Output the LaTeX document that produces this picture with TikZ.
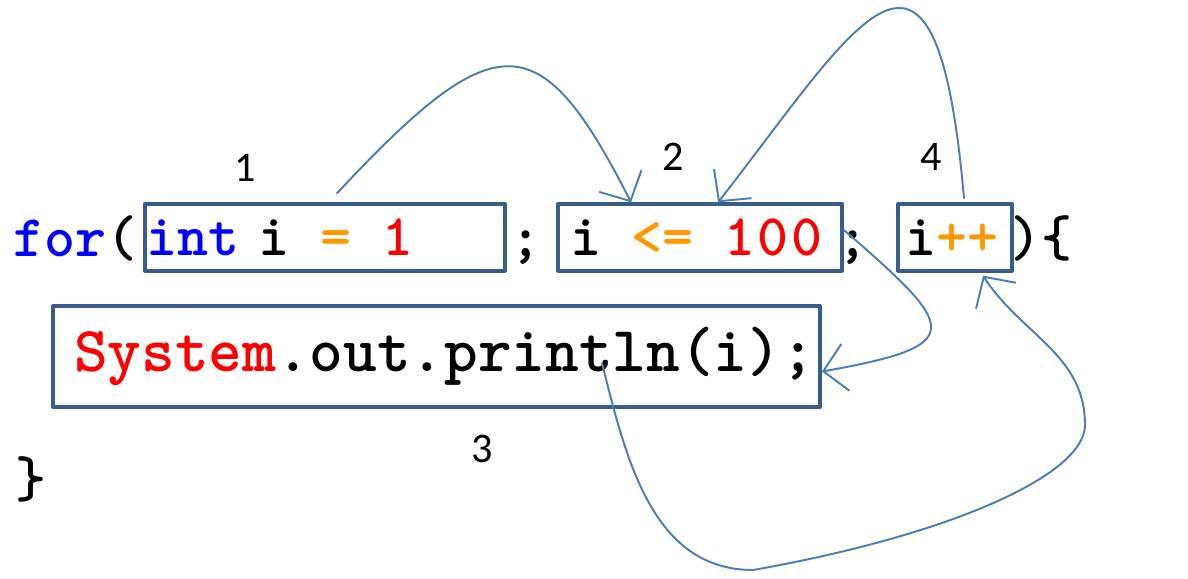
\documentclass[tikz,border=0pt]{standalone}
\usepackage{fontspec}
\usepackage{tikz}
\usetikzlibrary{arrows.meta, positioning, calc}
\newfontfamily\labelfont{Carlito}
\definecolor{BoxBlue}{RGB}{56, 93, 138}
\definecolor{ArrowBlue}{RGB}{74, 126, 187}
\definecolor{KwBlue}{RGB}{0, 0, 255}
\definecolor{OpOrange}{RGB}{255, 153, 0}
\definecolor{NumRed}{RGB}{255, 0, 0}
\newcommand{\codefont}{\fontsize{33.6}{36}\selectfont\ttfamily\bfseries}
\newcommand{\bodyfont}{\fontsize{36.5}{39}\selectfont\ttfamily\bfseries}
\newcommand{\gap}{\hspace{0.22cm}}
\tikzset{every path/.style={line cap=round, line join=round}, >={Straight Barb[length=4.5mm, width=9.5mm]}}

\begin{document}
\begin{tikzpicture}[
    code/.style={font=\codefont, inner sep=0pt, anchor=base west},
    codebox/.style={draw=BoxBlue, line width=2.2pt, minimum height=1.33cm, inner ysep=0pt, align=left, font=\codefont},
    numlabel/.style={font=\labelfont\fontsize{24}{26}\selectfont, inner sep=0pt},
    flow/.style={->, draw=ArrowBlue, line width=1.1pt}
]
    \useasboundingbox (0,0) rectangle (23.76,11.58);

    % the for header
    \node [code] (forkw) at (0.26,6.45) {\textcolor{KwBlue}{for}(};
    \node [codebox, text width=7.16cm, inner xsep=0.02cm] (init) at (6.5,6.83) {\textcolor{KwBlue}{int} i\gap{} \textcolor{OpOrange}{=}\gap{} \textcolor{NumRed}{1}};
    \node [code] (semi1) at (10.2,6.45) {;};
    \node [codebox, text width=5.2cm, inner xsep=0.24cm] (cond) at (14.0,6.83) {i\gap{} \textcolor{OpOrange}{<=}\gap{} \textcolor{NumRed}{1\hspace{0.05cm}0\hspace{0.05cm}0}};
    \node [code] (semi2) at (16.74,6.45) {;};
    \node [codebox, text width=2.0cm, inner xsep=0.14cm] (incr) at (19.1,6.83) {i\textcolor{OpOrange}{++}};
    \node [code] (closer) at (20.2,6.45) {)\{};

    % loop body
    \node [codebox, font=\bodyfont, minimum height=2.02cm, text width=14.5cm, inner xsep=0.42cm] (body) at (8.73,4.45) {\textcolor{NumRed}{System}.out.println(i);};
    \node [code] (brace) at (0.3,1.63) {\}};

    \node [numlabel] (lbl1) at (4.9,8.22) {1};
    \node [numlabel] (lbl2) at (13.46,8.44) {2};
    \node [numlabel] (lbl4) at (18.62,8.44) {4};
    \node [numlabel] (lbl3) at (9.64,2.6) {3};

    \coordinate (loopbot) at (15.06,0.18);
    \coordinate (loopright) at (21.7,3.08);

    \draw [flow] ($(init.north)+(0.24,0.18)$) to[out=47, in=117, out distance=4.7cm, in distance=4cm] ($(cond.north west)+(1.5,0)$);
    \draw [flow] ($(incr.north)+(0.18,0.08)$) to[out=95, in=52, out distance=6.5cm, in distance=4.5cm] ($(cond.north west)+(3.24,0)$);
    \draw [flow] ($(cond.east)+(0,0.15)$) to[out=-41, in=10, out distance=3cm, in distance=3cm] ($(body.east)+(0,-0.3)$);
    \draw [flow] ($(body.center)+(3.31,-0.13)$) to[out=-76, in=180] (loopbot)
        to[out=10, in=-90, out distance=4cm, in distance=1cm] (loopright)
        to[out=90, in=-57] ($(incr.south)+(0.56,-0.06)$);
\end{tikzpicture}
\end{document}
